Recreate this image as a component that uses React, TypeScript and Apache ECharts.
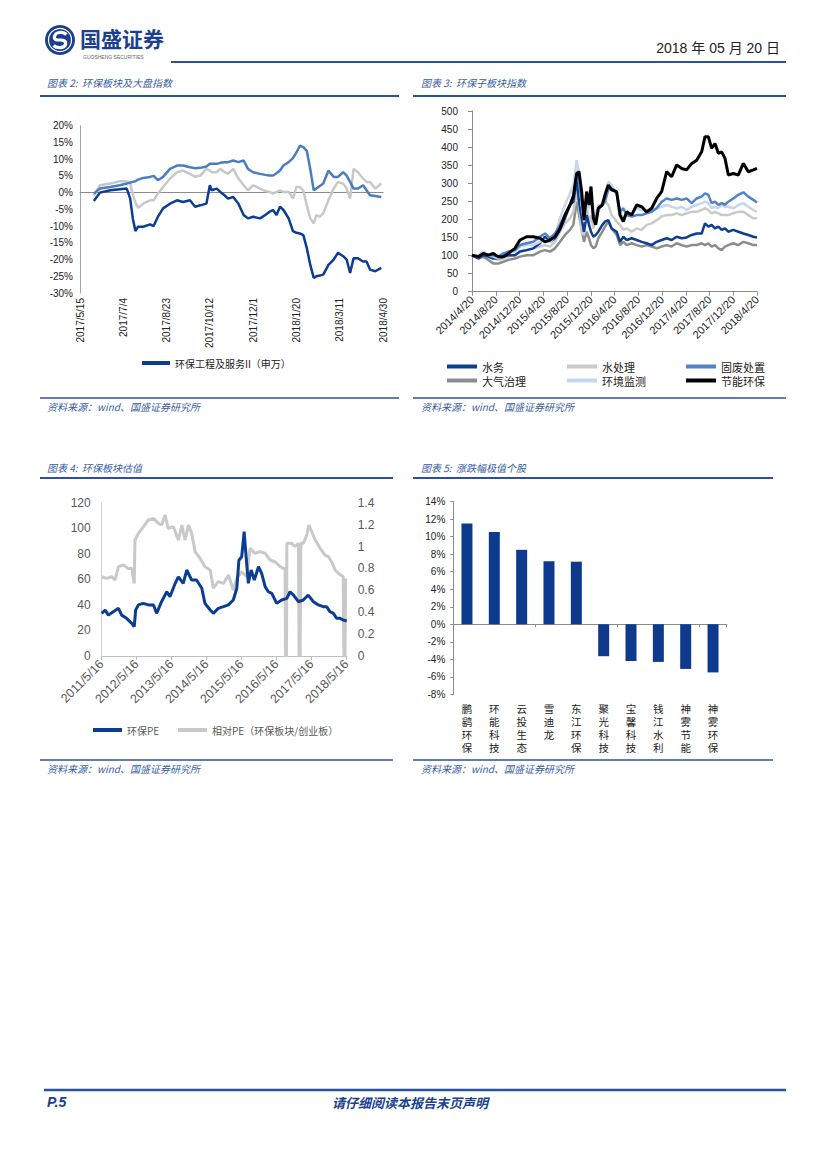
import React, { useEffect, useRef } from "react";
import * as echarts from "echarts";

// ---------- Chart 2: 环保板块及大盘指数 ----------
const c2Ticks = ["2017/5/15", "2017/7/4", "2017/8/23", "2017/10/12", "2017/12/1", "2018/1/20", "2018/3/11", "2018/4/30"];
const c2Days = [16, 23, 35, 46, 54, 58, 61, 64, 67, 73, 81, 85, 90, 96, 104, 112, 119, 127, 133, 139, 146, 150, 152, 158, 162, 167, 171, 177, 183, 189, 194, 200, 208, 214, 219, 223, 227, 231, 235, 241, 246, 250, 254, 258, 262, 266, 270, 273, 277, 281, 287, 293, 298, 304, 308, 312, 316, 321, 327, 331, 335, 341, 348];
const c2Sector = [-2.5, 0, 0.7, 1.0, 1.2, -1.8, -7.7, -11.5, -10.2, -10.2, -9.5, -10, -7.2, -4.7, -3.3, -2.3, -2.8, -2.3, -4.2, -3.8, -3.3, 2.2, 0.7, 1.2, 0.2, -0.8, -1.8, -1.3, -3.3, -6.7, -7.7, -7.2, -7.7, -6.7, -5.7, -5.2, -6.7, -4.2, -5.2, -7.7, -11.5, -12, -12.2, -12.7, -16.6, -21.6, -25.5, -25, -24.8, -24.5, -21.6, -20, -18, -19, -20, -24, -19.6, -19.6, -20.6, -20.6, -23, -23.5, -22.5];
const c2IndexA = [-0.3, 1.2, 1.7, 2.2, 2.7, 3.0, 3.2, 3.4, 3.9, 4.4, 4.7, 5.0, 3.7, 4.7, 7.1, 8.1, 8.1, 7.6, 7.3, 7.4, 7.8, 8.6, 8.6, 8.6, 8.9, 9.1, 9.1, 9.6, 9.1, 9.6, 7.1, 6.1, 5.6, 5.3, 5.1, 5.1, 5.8, 6.6, 8.1, 9.1, 10.3, 12.0, 14.0, 13.6, 12.5, 7.0, 0.7, 1.2, 2.0, 2.7, 6.6, 4.7, 4.7, 6.1, 5.1, 3.2, 1.2, 1.2, 2.2, 0.7, -0.8, -1.0, -1.3];
const c2IndexB = [-0.8, 2.2, 2.7, 3.4, 3.4, 2.7, -0.5, -3.0, -4.5, -3.3, -2.3, -2.3, -0.3, 1.7, 4.2, 6.1, 6.6, 5.6, 4.7, 5.1, 7.1, 6.6, 6.1, 6.1, 7.1, 6.1, 5.6, 7.1, 4.2, 2.2, 0.7, 2.2, 1.2, 0.5, 0.2, -0.3, 0.2, 0.7, 0.2, 0.2, -1.8, 1.7, 1.7, 0.5, -3.8, -7.7, -9.2, -6.7, -7.2, -6.2, -2.3, 1.2, 3.2, 2.7, 1.2, -1.8, 7.1, 6.1, 4.2, 3.2, 3.2, 1.2, 2.7];

// ---------- Chart 3: 环保子板块指数 ----------
const c3Ticks = ["2014/4/20", "2014/8/20", "2014/12/20", "2015/4/20", "2015/8/20", "2015/12/20", "2016/4/20", "2016/8/20", "2016/12/20", "2017/4/20", "2017/8/20", "2017/12/20", "2018/4/20"];
const c3Months = [0, 1.07, 1.91, 2.75, 3.59, 4.43, 5.28, 6.12, 7.24, 8.08, 9.21, 10.33, 11.45, 12.29, 13.14, 13.98, 14.82, 15.66, 16.5, 17.07, 17.63, 18.02, 18.47, 18.86, 19.31, 19.71, 20.04, 20.44, 20.83, 21.28, 21.95, 22.4, 22.96, 23.52, 24.36, 24.93, 25.49, 26.05, 26.89, 27.73, 28.58, 29.42, 30.26, 31.1, 31.94, 32.79, 33.63, 34.47, 35.31, 36.15, 37, 37.84, 38.68, 39.24, 39.8, 40.36, 40.93, 41.49, 42.05, 42.61, 43.17, 44.01, 44.86, 45.7, 46.54, 47.38, 48];
const c3Water = [101, 92, 101, 97, 92, 92, 97, 101, 101, 111, 115, 120, 134, 152, 138, 148, 171, 203, 240, 249, 309, 249, 203, 166, 212, 185, 166, 152, 157, 166, 185, 194, 198, 175, 166, 138, 152, 143, 148, 143, 138, 134, 129, 138, 143, 148, 143, 152, 148, 150, 157, 161, 161, 189, 180, 185, 175, 180, 171, 175, 166, 171, 166, 161, 157, 152, 150];
const c3Treat = [101, 97, 103, 97, 92, 88, 92, 97, 101, 111, 115, 120, 125, 129, 125, 138, 166, 189, 203, 221, 277, 240, 166, 157, 240, 185, 212, 175, 212, 240, 240, 249, 240, 212, 194, 185, 171, 175, 166, 175, 171, 185, 189, 198, 208, 212, 212, 217, 212, 217, 221, 221, 226, 231, 226, 217, 221, 217, 212, 212, 212, 217, 221, 221, 212, 203, 203];
const c3Solid = [101, 97, 106, 101, 101, 97, 106, 111, 115, 129, 134, 138, 152, 161, 148, 161, 185, 212, 240, 268, 323, 304, 249, 212, 268, 240, 258, 212, 198, 231, 240, 249, 282, 286, 272, 221, 231, 212, 208, 212, 212, 217, 221, 231, 249, 258, 254, 258, 254, 258, 245, 258, 263, 272, 268, 245, 249, 240, 245, 240, 249, 258, 268, 275, 263, 254, 247];
const c3Air = [101, 92, 97, 88, 78, 78, 83, 88, 92, 97, 101, 101, 111, 115, 111, 120, 138, 157, 171, 185, 249, 212, 175, 138, 166, 148, 129, 120, 125, 148, 166, 180, 194, 175, 157, 129, 138, 129, 134, 129, 125, 129, 125, 120, 125, 129, 125, 134, 129, 125, 129, 129, 134, 129, 134, 125, 129, 120, 115, 125, 129, 134, 129, 138, 134, 129, 129];
const c3Monitor = [101, 101, 111, 101, 97, 92, 101, 106, 111, 125, 129, 129, 138, 143, 138, 152, 203, 240, 272, 295, 364, 332, 240, 194, 277, 231, 249, 203, 185, 221, 249, 268, 304, 295, 272, 221, 203, 212, 217, 231, 226, 221, 226, 231, 235, 240, 235, 231, 235, 226, 235, 240, 245, 249, 245, 231, 235, 231, 240, 235, 235, 231, 240, 245, 235, 226, 221];
const c3Energy = [101, 97, 106, 101, 106, 97, 97, 106, 120, 143, 152, 152, 148, 138, 143, 152, 175, 212, 240, 263, 327, 332, 277, 198, 277, 240, 291, 203, 185, 231, 240, 268, 295, 282, 277, 212, 194, 221, 212, 240, 235, 221, 231, 258, 277, 332, 318, 351, 341, 337, 355, 364, 387, 429, 429, 397, 410, 383, 387, 369, 323, 327, 323, 355, 332, 337, 341];
const c3Names = ["水务", "水处理", "固废处置", "大气治理", "环境监测", "节能环保"];

// ---------- Chart 4: 环保板块估值 ----------
const c4Ticks = ["2011/5/16", "2012/5/16", "2013/5/16", "2014/5/16", "2015/5/16", "2016/5/16", "2017/5/16", "2018/5/16"];
const c4PE = [[0, 33.4], [0.1, 36], [0.19, 32], [0.33, 34.7], [0.48, 37.3], [0.57, 32], [0.71, 29.5], [0.86, 25.6], [0.93, 23], [0.97, 36], [1.05, 40], [1.19, 41.2], [1.33, 40], [1.48, 40], [1.57, 33.4], [1.71, 42.5], [1.86, 50.3], [1.95, 46.4], [2.1, 56.9], [2.19, 62], [2.33, 56.9], [2.43, 67.3], [2.57, 59.5], [2.71, 59.5], [2.86, 53], [2.95, 41.2], [3.1, 36], [3.19, 33.4], [3.33, 37.3], [3.48, 38.6], [3.62, 40], [3.76, 43.8], [3.86, 53], [3.92, 75], [4.0, 77.7], [4.07, 97.3], [4.11, 83], [4.19, 56.9], [4.27, 67.3], [4.36, 59.5], [4.48, 69.9], [4.57, 64.7], [4.67, 54.3], [4.76, 50.3], [4.86, 49], [5.0, 41.2], [5.14, 43.8], [5.29, 45.1], [5.38, 50.3], [5.48, 47.7], [5.62, 42.5], [5.76, 43.8], [5.9, 47.7], [6.05, 42.5], [6.19, 40], [6.33, 38.6], [6.43, 38.6], [6.52, 34.7], [6.62, 33.4], [6.71, 29.5], [6.81, 29.5], [6.9, 28.2], [7.0, 27.4]];
const c4RelPE = [[0, 0.724], [0.14, 0.709], [0.29, 0.724], [0.38, 0.694], [0.48, 0.816], [0.62, 0.831], [0.76, 0.8], [0.86, 0.8], [0.93, 0.663], [0.95, 1.059], [1.05, 1.12], [1.19, 1.18], [1.33, 1.242], [1.48, 1.257], [1.62, 1.211], [1.71, 1.196], [1.81, 1.287], [1.9, 1.166], [2.05, 1.18], [2.19, 1.059], [2.29, 1.196], [2.38, 1.059], [2.48, 1.196], [2.57, 1.12], [2.67, 0.953], [2.81, 0.892], [2.95, 0.816], [3.1, 0.785], [3.19, 0.618], [3.33, 0.679], [3.48, 0.663], [3.62, 0.74], [3.76, 0.603], [3.86, 0.709], [4.0, 0.77], [4.14, 0.724], [4.24, 0.983], [4.38, 0.937], [4.52, 0.953], [4.67, 0.937], [4.81, 0.877], [4.95, 0.861], [5.1, 0.816], [5.19, 0.8], [5.24, 0.8], [5.25, 0], [5.28, 0], [5.29, 1.029], [5.43, 1.029], [5.52, 1.0], [5.62, 1.029], [5.64, 0], [5.67, 0], [5.69, 1.029], [5.76, 1.029], [5.86, 1.105], [5.92, 1.196], [6.0, 1.135], [6.1, 1.059], [6.24, 0.983], [6.38, 0.922], [6.48, 0.907], [6.57, 0.861], [6.67, 0.785], [6.76, 0.755], [6.9, 0.724], [6.92, 0], [6.95, 0], [6.97, 0.709]];

// ---------- Chart 5: 涨跌幅极值个股 ----------
const c5Names = ["鹏鹞环保", "环能科技", "云投生态", "雪迪龙", "东江环保", "聚光科技", "宝馨科技", "钱江水利", "神雾节能", "神雾环保"];
const c5Values = [11.5, 10.55, 8.5, 7.2, 7.15, -3.65, -4.2, -4.3, -5.1, -5.5];

const SANS = "'Liberation Sans', Arial, sans-serif";
const CJK = "'Noto Sans CJK SC', 'Liberation Sans', sans-serif";
const LINE_BLUE = "#2a519c";
const TEXT_BLUE = "#3a5ea3";
const DARK_BLUE = "#0b3d92";

echarts.graphic.registerShape(
  "gsLogoS",
  echarts.graphic.extendPath("M17 5 C14 2 6 2 5 7 C4 11 9 10.5 11 10.5 C13 10.5 17 11 16 15 C15 19 7 19 4 16", {})
);

function lineSeries(name: string, x: number[], y: number[], color: string, width: number, xi: number, yi: number) {
  return {
    name,
    type: "line",
    xAxisIndex: xi,
    yAxisIndex: yi,
    data: x.map((d, i) => [d, y[i]]),
    showSymbol: false,
    symbol: "none",
    itemStyle: { color },
    lineStyle: { color, width },
    z: 3,
  };
}

function txt(x: number, y: number, text: string, extra: any = {}) {
  return {
    type: "text",
    x,
    y,
    style: Object.assign(
      { text, fontSize: 10, fontFamily: CJK, fill: TEXT_BLUE, verticalAlign: "middle", textVerticalAlign: "middle", textAlign: "left" },
      extra
    ),
  };
}

function hline(x1: number, x2: number, y: number, w = 2, color = LINE_BLUE) {
  return { type: "line", shape: { x1, y1: y, x2, y2: y }, style: { stroke: color, lineWidth: w } };
}

function legendAt(left: number, top: number, name: string, color: string, iw = 30, ih = 4, fontSize = 11) {
  return {
    left,
    top,
    padding: 0,
    icon: "rect",
    itemWidth: iw,
    itemHeight: ih,
    selectedMode: false,
    data: [name],
    textStyle: { fontSize, fontFamily: CJK, color },
  };
}

function buildOption() {
  const axisGray = "#8c8c8c";
  return {
    animation: false,
    backgroundColor: "#ffffff",
    grid: [
      { left: 80, top: 125.7, width: 303, height: 167.3 },
      { left: 472, top: 111, width: 285, height: 180.7 },
      { left: 101.7, top: 502.7, width: 245, height: 153.3 },
      { left: 453.3, top: 501.7, width: 273.4, height: 192.6 },
    ],
    legend: [
      legendAt(142, 358, "环保工程及服务II（申万）", "#222", 28, 4, 10),
      legendAt(447, 361, c3Names[0], "#222"),
      legendAt(567, 361, c3Names[1], "#222"),
      legendAt(686, 361, c3Names[2], "#222"),
      legendAt(447, 375, c3Names[3], "#222"),
      legendAt(567, 375, c3Names[4], "#222"),
      legendAt(686, 375, c3Names[5], "#222"),
      legendAt(93, 725, "环保PE", "#595959", 29, 4, 10),
      legendAt(178, 725, "相对PE（环保板块/创业板）", "#595959", 29, 4, 10),
    ],
    xAxis: [
      {
        gridIndex: 0, type: "value", min: 0, max: 350, interval: 50, position: "bottom",
        axisLine: { show: false, onZero: false }, axisTick: { show: false }, splitLine: { show: false },
        axisLabel: { rotate: 90, margin: 5, fontSize: 10, color: "#222", fontFamily: SANS, formatter: (v: number) => c2Ticks[Math.round(v / 50)] ?? "" },
      },
      {
        gridIndex: 0, type: "value", min: 0, max: 350, interval: 50, position: "bottom",
        axisLine: { show: true, onZero: true, lineStyle: { color: axisGray, width: 1 } }, axisTick: { show: false },
        axisLabel: { show: false }, splitLine: { show: false },
      },
      {
        gridIndex: 1, type: "value", min: 0, max: 48, interval: 4, position: "bottom",
        axisLine: { show: true, onZero: false, lineStyle: { color: axisGray } },
        axisTick: { show: true, length: 4, lineStyle: { color: axisGray } }, splitLine: { show: false },
        axisLabel: { rotate: 45, margin: 6, fontSize: 11, color: "#222", fontFamily: SANS, formatter: (v: number) => c3Ticks[Math.round(v / 4)] ?? "" },
      },
      {
        gridIndex: 2, type: "value", min: 0, max: 7, interval: 1, position: "bottom",
        axisLine: { show: true, onZero: false, lineStyle: { color: "#bfbfbf" } },
        axisTick: { show: true, length: 4, lineStyle: { color: "#bfbfbf" } }, splitLine: { show: false },
        axisLabel: { rotate: 45, margin: 6, fontSize: 12.5, color: "#595959", fontFamily: SANS, formatter: (v: number) => c4Ticks[Math.round(v)] ?? "" },
      },
      {
        gridIndex: 3, type: "category", data: c5Names, position: "bottom",
        axisLine: { show: false, onZero: false }, axisTick: { show: false }, splitLine: { show: false },
        axisLabel: { margin: 8, fontSize: 10.5, lineHeight: 13, color: "#222", fontFamily: CJK, verticalAlign: "top", interval: 0, formatter: (v: string) => v.split("").join("\n") },
      },
      {
        gridIndex: 3, type: "category", data: c5Names, position: "bottom",
        axisLine: { show: true, onZero: true, lineStyle: { color: axisGray } },
        axisTick: { show: true, length: 3, lineStyle: { color: axisGray } }, axisLabel: { show: false }, splitLine: { show: false },
      },
    ],
    yAxis: [
      {
        gridIndex: 0, type: "value", min: -30, max: 20, interval: 5,
        axisLine: { show: true, onZero: false, lineStyle: { color: "#a6a6a6" } }, axisTick: { show: false }, splitLine: { show: false },
        axisLabel: { margin: 7, fontSize: 10, color: "#222", fontFamily: SANS, formatter: (v: number) => v + "%" },
      },
      {
        gridIndex: 1, type: "value", min: 0, max: 500, interval: 50,
        axisLine: { show: true, onZero: false, lineStyle: { color: axisGray } },
        axisTick: { show: true, length: 4, lineStyle: { color: axisGray } }, splitLine: { show: false },
        axisLabel: { margin: 14, fontSize: 10, color: "#222", fontFamily: SANS },
      },
      {
        gridIndex: 2, type: "value", min: 0, max: 120, interval: 20, position: "left",
        axisLine: { show: true, onZero: false, lineStyle: { color: "#d0d0d0" } }, axisTick: { show: false }, splitLine: { show: false },
        axisLabel: { margin: 11, fontSize: 12, color: "#595959", fontFamily: SANS },
      },
      {
        gridIndex: 2, type: "value", min: 0, max: 1.4, interval: 0.2, position: "right",
        axisLine: { show: false, onZero: false }, axisTick: { show: false }, splitLine: { show: false },
        axisLabel: { margin: 11, fontSize: 12, color: "#595959", fontFamily: SANS, formatter: (v: number) => String(Math.round(v * 10) / 10) },
      },
      {
        gridIndex: 3, type: "value", min: -8, max: 14, interval: 2,
        axisLine: { show: true, onZero: false, lineStyle: { color: axisGray } },
        axisTick: { show: true, length: 3, lineStyle: { color: axisGray } }, splitLine: { show: false },
        axisLabel: { margin: 8, fontSize: 10, color: "#222", fontFamily: SANS, formatter: (v: number) => v + "%" },
      },
    ],
    series: [
      lineSeries("上证综指", c2Days, c2IndexB, "#c8c8c8", 2.5, 0, 0),
      lineSeries("环保工程及服务II（申万）", c2Days, c2Sector, DARK_BLUE, 2.5, 0, 0),
      lineSeries("沪深300", c2Days, c2IndexA, "#4a7ebf", 2.5, 0, 0),

      lineSeries(c3Names[3], c3Months, c3Air, "#8c8c8c", 2.5, 2, 1),
      lineSeries(c3Names[1], c3Months, c3Treat, "#cacaca", 2.5, 2, 1),
      lineSeries(c3Names[0], c3Months, c3Water, "#0c3f93", 2.5, 2, 1),
      lineSeries(c3Names[4], c3Months, c3Monitor, "#c6d6ee", 2.5, 2, 1),
      lineSeries(c3Names[2], c3Months, c3Solid, "#4f84c9", 2.5, 2, 1),
      lineSeries(c3Names[5], c3Months, c3Energy, "#000000", 3, 2, 1),

      {
        name: "相对PE（环保板块/创业板）", type: "line", xAxisIndex: 3, yAxisIndex: 3, data: c4RelPE,
        showSymbol: false, symbol: "none", itemStyle: { color: "#c9c9c9" }, lineStyle: { color: "#c9c9c9", width: 3 },
      },
      {
        name: "环保PE", type: "line", xAxisIndex: 3, yAxisIndex: 2, data: c4PE,
        showSymbol: false, symbol: "none", itemStyle: { color: DARK_BLUE }, lineStyle: { color: DARK_BLUE, width: 3 },
      },

      {
        name: "涨跌幅", type: "bar", xAxisIndex: 5, yAxisIndex: 4, data: c5Values, barWidth: 11,
        itemStyle: { color: "#0e3a8e" },
      },
    ],
    graphic: [
      // header
      { type: "circle", shape: { cx: 60, cy: 40, r: 15 }, style: { fill: "#1b3f8f" } },
      { type: "circle", shape: { cx: 60, cy: 40, r: 11.5 }, style: { fill: "none", stroke: "#ffffff", lineWidth: 1.2 } },
      { type: "gsLogoS", x: 49.5, y: 29.5, style: { fill: "none", stroke: "#ffffff", lineWidth: 3.2 } },
      txt(80, 38, "国盛证券", { fontSize: 21, fontWeight: "bold", fill: "#1b3f8f" }),
      txt(83, 56.5, "GUOSHENG SECURITIES", { fontSize: 5, fill: "#666", fontFamily: SANS }),
      txt(780, 48, "2018 年 05 月 20 日", { fontSize: 14, fill: "#222", textAlign: "right", fontFamily: "'Liberation Sans Narrow', 'Liberation Sans', 'Noto Sans CJK SC', sans-serif" }),
      hline(171, 786, 62, 2),

      // section 2 & 3
      txt(47, 82, "图表 2:  环保板块及大盘指数", { fontStyle: "italic" }),
      txt(421, 82, "图表 3:  环保子板块指数", { fontStyle: "italic" }),
      hline(40, 399, 96, 2),
      hline(413, 786, 96, 2),
      hline(40, 399, 398, 1.5),
      hline(413, 786, 398, 1.5),
      txt(47, 406, "资料来源：wind、国盛证券研究所", { fontStyle: "italic" }),
      txt(421, 406, "资料来源：wind、国盛证券研究所", { fontStyle: "italic" }),

      // section 4 & 5
      txt(47, 467, "图表 4:  环保板块估值", { fontStyle: "italic" }),
      txt(421, 467, "图表 5:  涨跌幅极值个股", { fontStyle: "italic" }),
      hline(40, 393, 478, 2),
      hline(413, 773, 478, 2),
      hline(40, 393, 760, 1.5),
      hline(413, 773, 760, 1.5),
      txt(47, 768, "资料来源：wind、国盛证券研究所", { fontStyle: "italic" }),
      txt(421, 768, "资料来源：wind、国盛证券研究所", { fontStyle: "italic" }),

      // footer
      hline(44, 786, 1090, 2.5),
      txt(47, 1102, "P.5", { fontSize: 14, fontWeight: "bold", fontStyle: "italic", fill: "#1b3f8f", fontFamily: SANS }),
      txt(410, 1102, "请仔细阅读本报告末页声明", { fontSize: 13, fontWeight: "bold", fontStyle: "italic", fill: "#1b3f8f", textAlign: "center" }),
    ],
  };
}

export default function App() {
  const ref = useRef<HTMLDivElement>(null);
  useEffect(() => {
    if (!ref.current) return;
    const chart = echarts.init(ref.current, undefined, { renderer: "svg" });
    chart.setOption(buildOption() as any);
    return () => chart.dispose();
  }, []);
  return (
    <div
      ref={ref}
      style={{ position: "absolute", left: 0, top: 0, width: 827, height: 1169, background: "#ffffff" }}
    />
  );
}
